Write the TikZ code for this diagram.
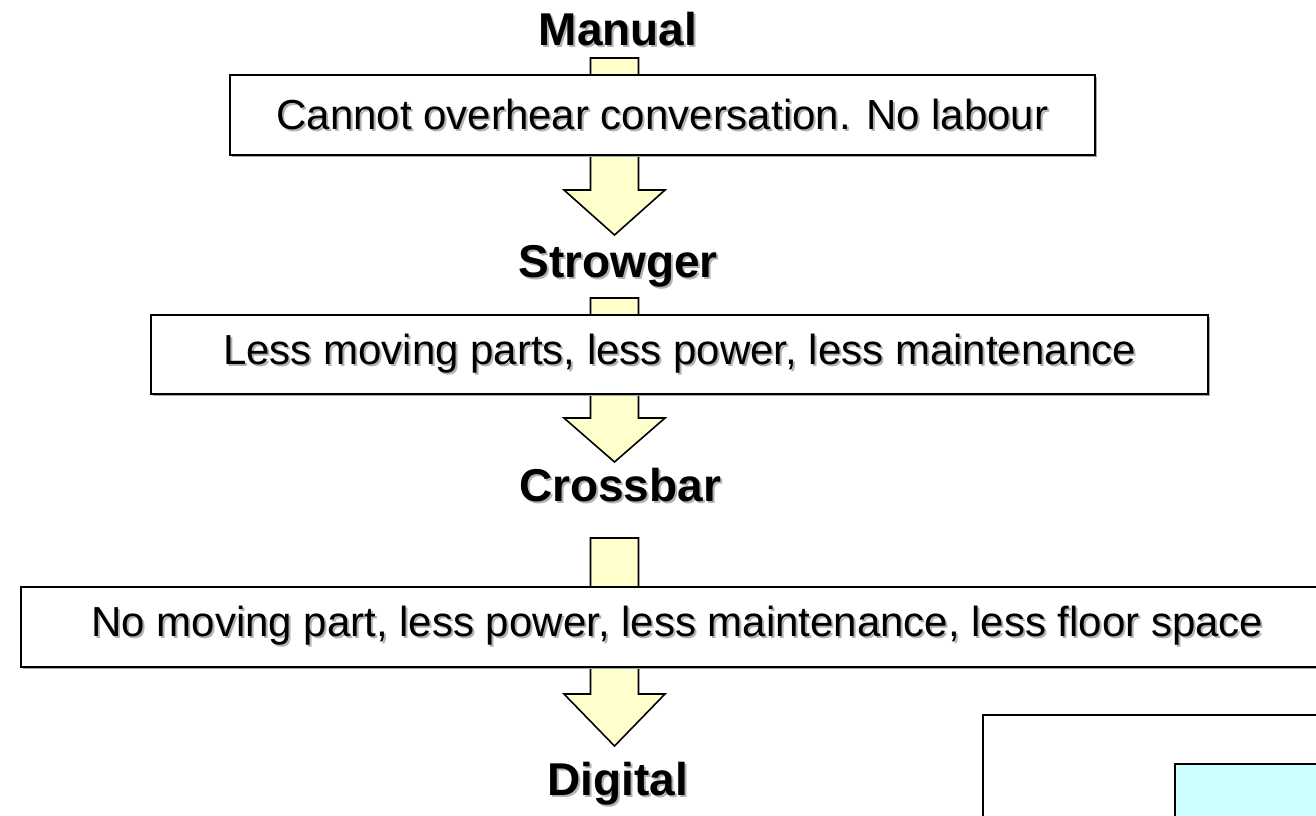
\documentclass[tikz,border=0pt]{standalone}
\usepackage{fontspec}
\setmainfont{Liberation Sans}
\usetikzlibrary{shadows}
\definecolor{arrowfill}{HTML}{FFFFCC}
\definecolor{cyanfill}{HTML}{CCFFFF}
\newcommand\shadowtext[1]{\leavevmode\rlap{\hspace{2pt}\raisebox{-2pt}{\color{black!30}#1}}#1}
\newcommand\blockarrow[4]{% x, top, head start, tip
  \draw[blockarrow] (#1-24,#2) -- (#1+24,#2) -- (#1+24,#3) -- (#1+50.5,#3)
    -- (#1,#4) -- (#1-50.5,#3) -- (#1-24,#3) -- cycle;}
\tikzset{
  blockarrow/.style={draw=black, fill=arrowfill, line width=1.6pt, line join=miter},
  infobox/.style={draw=black, fill=white, line width=2pt, inner sep=0pt,
    font=\fontsize{42}{48}\selectfont,
    drop shadow={shadow xshift=1.5pt, shadow yshift=-1.5pt, fill=black!35, opacity=1}},
  stage/.style={font=\fontsize{46}{52}\selectfont\bfseries, anchor=base, inner sep=0pt},
  panel/.style={draw=black, line width=2pt, anchor=north west, inner sep=0pt,
    drop shadow={shadow xshift=1.5pt, shadow yshift=-1.5pt, fill=black!35, opacity=1}},
}
\begin{document}
\begin{tikzpicture}[x=1pt,y=-1pt]
\clip (0,0) rectangle (1316,815);
\fill[white] (0,0) rectangle (1316,815);

% stage labels
\node[stage] (manual)   at (618,45)  {\shadowtext{Manual}};
\node[stage] (strowger) at (618,277) {\shadowtext{Strowger}};
\node[stage] (crossbar) at (620,501) {\shadowtext{Crossbar}};
\node[stage] (digital)  at (618,795) {\shadowtext{Digital}};

% block arrows (drawn first, boxes cover their middle)
\blockarrow{614.5}{58}{190}{235}
\blockarrow{614.5}{298}{418}{462}
\blockarrow{614.5}{538}{694}{746}

% boxes
\node[infobox, minimum width=865pt, minimum height=80pt] (box1) at (662.5,115)
  {\shadowtext{Cannot overhear conversation. No labour}};
\node[infobox, minimum width=1057pt, minimum height=79pt] (box2) at (679.5,354.5)
  {\shadowtext{Less moving parts, less power, less maintenance}};
\node[infobox, minimum width=1313pt, minimum height=80pt] (box3) at (677.5,627)
  {\shadowtext{No moving part, less power, less maintenance, less floor space}};

% partially visible panels at bottom right
\node[panel, fill=white, minimum width=400pt, minimum height=200pt] (outer) at (982,714) {};
\node[panel, fill=cyanfill, minimum width=250pt, minimum height=150pt] (inner) at (1174,763) {};
\end{tikzpicture}
\end{document}
